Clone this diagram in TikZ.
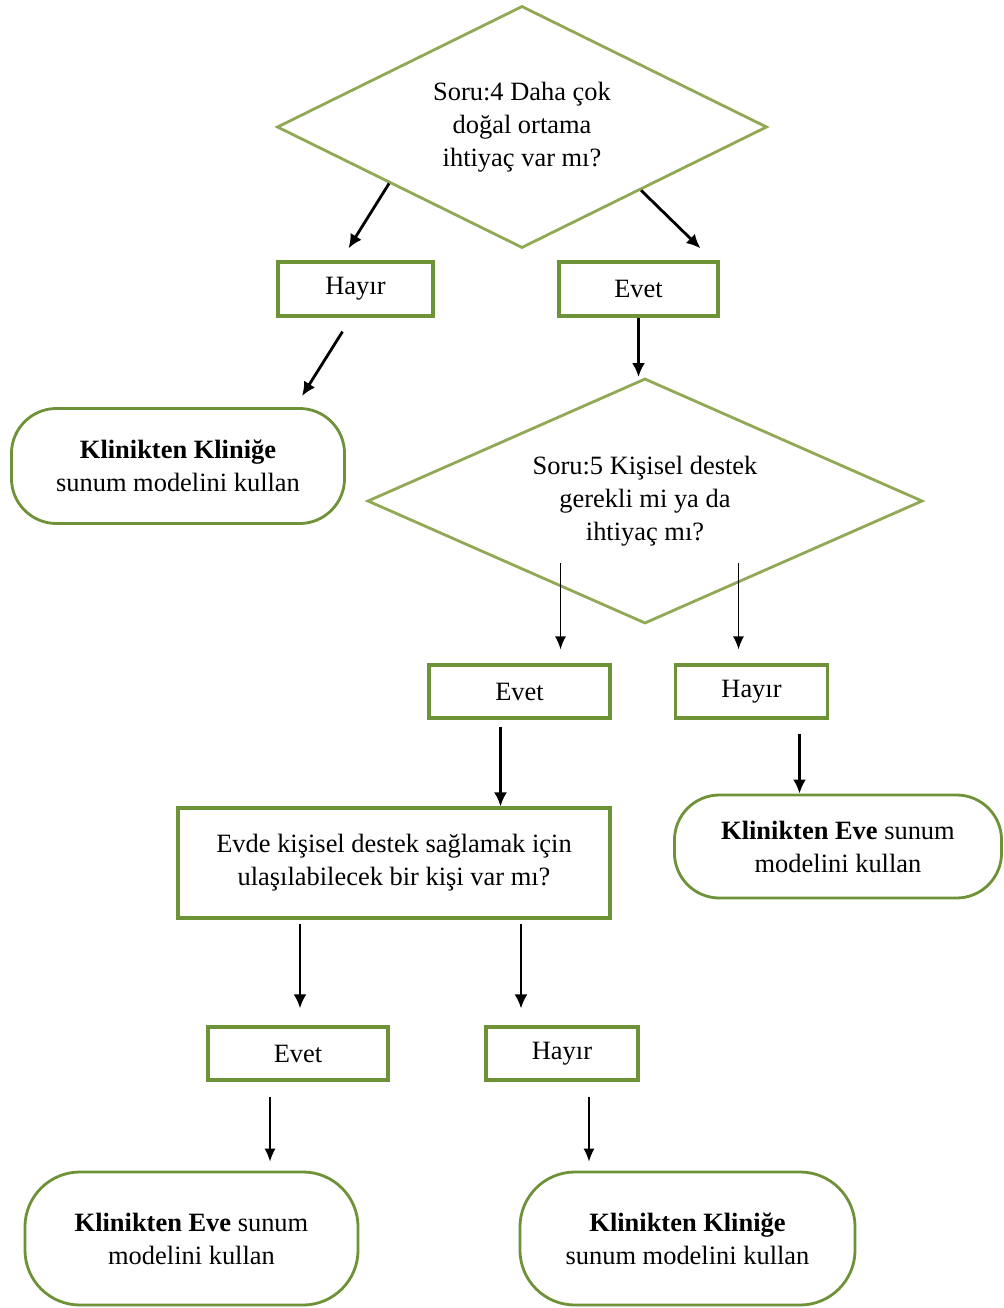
\documentclass[tikz,border=0pt]{standalone}
\usepackage{fontspec}
\setmainfont{Liberation Serif}
\usepackage{xcolor}
\usetikzlibrary{shapes.geometric,arrows.meta,calc,positioning}

\definecolor{diagreen}{RGB}{145,168,85}
\definecolor{boxgreen}{RGB}{110,146,55}

\tikzset{
  question/.style={diamond, aspect=2.2, draw=diagreen, line width=2pt, inner sep=0pt, align=center},
  answer/.style={rectangle, draw=boxgreen, line width=2.3pt, inner sep=0pt, align=center},
  outcome/.style={rectangle, rounded corners=1.125cm, draw=boxgreen, line width=2pt, inner sep=0pt, align=center},
  arr/.style={-{Latex[length=0.35cm,width=0.325cm]}, line width=2pt},
  arrthin/.style={-{Latex[length=0.325cm,width=0.275cm]}, line width=1pt},
}

\begin{document}
\begin{tikzpicture}[x=0.025cm, y=-0.025cm,
    every node/.append style={font=\fontsize{18.8}{23.5}\selectfont}]
            \useasboundingbox (0,0) rectangle (1004,1308);

            % question 4
            \node[question, minimum width=12.25cm, minimum height=6.05cm] (d1) at (522,127)
                {Soru:4 Daha çok\\ doğal ortama\\ ihtiyaç var mı?};
            \node[answer, minimum width=3.875cm, minimum height=1.35cm] (h1) at (355.5,289) {Hayır};
            \node[answer, minimum width=3.975cm, minimum height=1.35cm] (e1) at (638.5,289) {Evet};
            \node[outcome, minimum width=8.325cm, minimum height=2.875cm] (k1) at (178,466)
                {\textbf{Klinikten Kliniğe}\\ sunum modelini kullan};

            % question 5
            \node[question, minimum width=13.875cm, minimum height=6.125cm] (d2) at (645,501)
                {Soru:5 Kişisel destek\\ gerekli mi ya da\\ ihtiyaç mı?};
            \node[answer, minimum width=4.525cm, minimum height=1.325cm] (ev2) at (519.5,691.5) {Evet};
            \node[answer, minimum width=3.8cm, minimum height=1.325cm] (hy2) at (751.5,691.5) {Hayır};
            \node[outcome, minimum width=8.175cm, minimum height=2.575cm] (k2) at (838,846.5)
                {\textbf{Klinikten Eve} sunum\\ modelini kullan};

            % person at home
            \node[answer, minimum width=10.8cm, minimum height=2.75cm] (q) at (394,863)
                {Evde kişisel destek sağlamak için\\ ulaşılabilecek bir kişi var mı?};
            \node[answer, minimum width=4.5cm, minimum height=1.325cm] (ev3) at (298,1053.5) {Evet};
            \node[answer, minimum width=3.8cm, minimum height=1.325cm] (hy3) at (562,1053.5) {Hayır};
            \node[outcome, rounded corners=1.375cm, minimum width=8.325cm, minimum height=3.325cm] (k3) at (191.5,1238.5)
                {\textbf{Klinikten Eve} sunum\\ modelini kullan};
            \node[outcome, rounded corners=1.375cm, minimum width=8.375cm, minimum height=3.325cm] (k4) at (687.5,1238.5)
                {\textbf{Klinikten Kliniğe}\\ sunum modelini kullan};

            % arrows
            \draw[arr] (d1.203) -- ($(h1.north)+(-7,-12)$);
            \draw[arr] (d1.332) -- ($(e1.north)+(62,-12)$);
            \draw[arr] ($(h1.south)+(-13,14)$) -- ($(k1.north)+(124,-11)$);
            \draw[arr] (e1.south) -- (e1.south |- d2.north);
            \draw[arrthin] ($(ev2.north)+(41,-100)$) -- ($(ev2.north)+(41,-14)$);
            \draw[arrthin] ($(hy2.north)+(-13,-100)$) -- ($(hy2.north)+(-13,-14)$);
            \coordinate (a7) at ($(ev2.south)+(-19,7)$);
            \draw[arr, line width=1.6pt] (a7) -- (a7 |- q.north);
            \coordinate (a8) at ($(hy2.south)+(48,14)$);
            \draw[arr, line width=2.4pt] (a8) -- (a8 |- k2.north);
            \coordinate (a9) at ($(q.south)+(-94,4)$);
            \draw[arr, shorten >=0.425cm] (a9) -- (a9 |- ev3.north);
            \coordinate (a10) at ($(q.south)+(127,4)$);
            \draw[arr, line width=1.5pt, shorten >=0.425cm] (a10) -- (a10 |- hy3.north);
            \coordinate (a11) at ($(ev3.south)+(-28,15)$);
            \draw[arrthin, shorten >=0.225cm] (a11) -- (a11 |- k3.north);
            \coordinate (a12) at ($(hy3.south)+(27,15)$);
            \draw[arrthin, shorten >=0.225cm] (a12) -- (a12 |- k4.north);
        \end{tikzpicture}
\end{document}
